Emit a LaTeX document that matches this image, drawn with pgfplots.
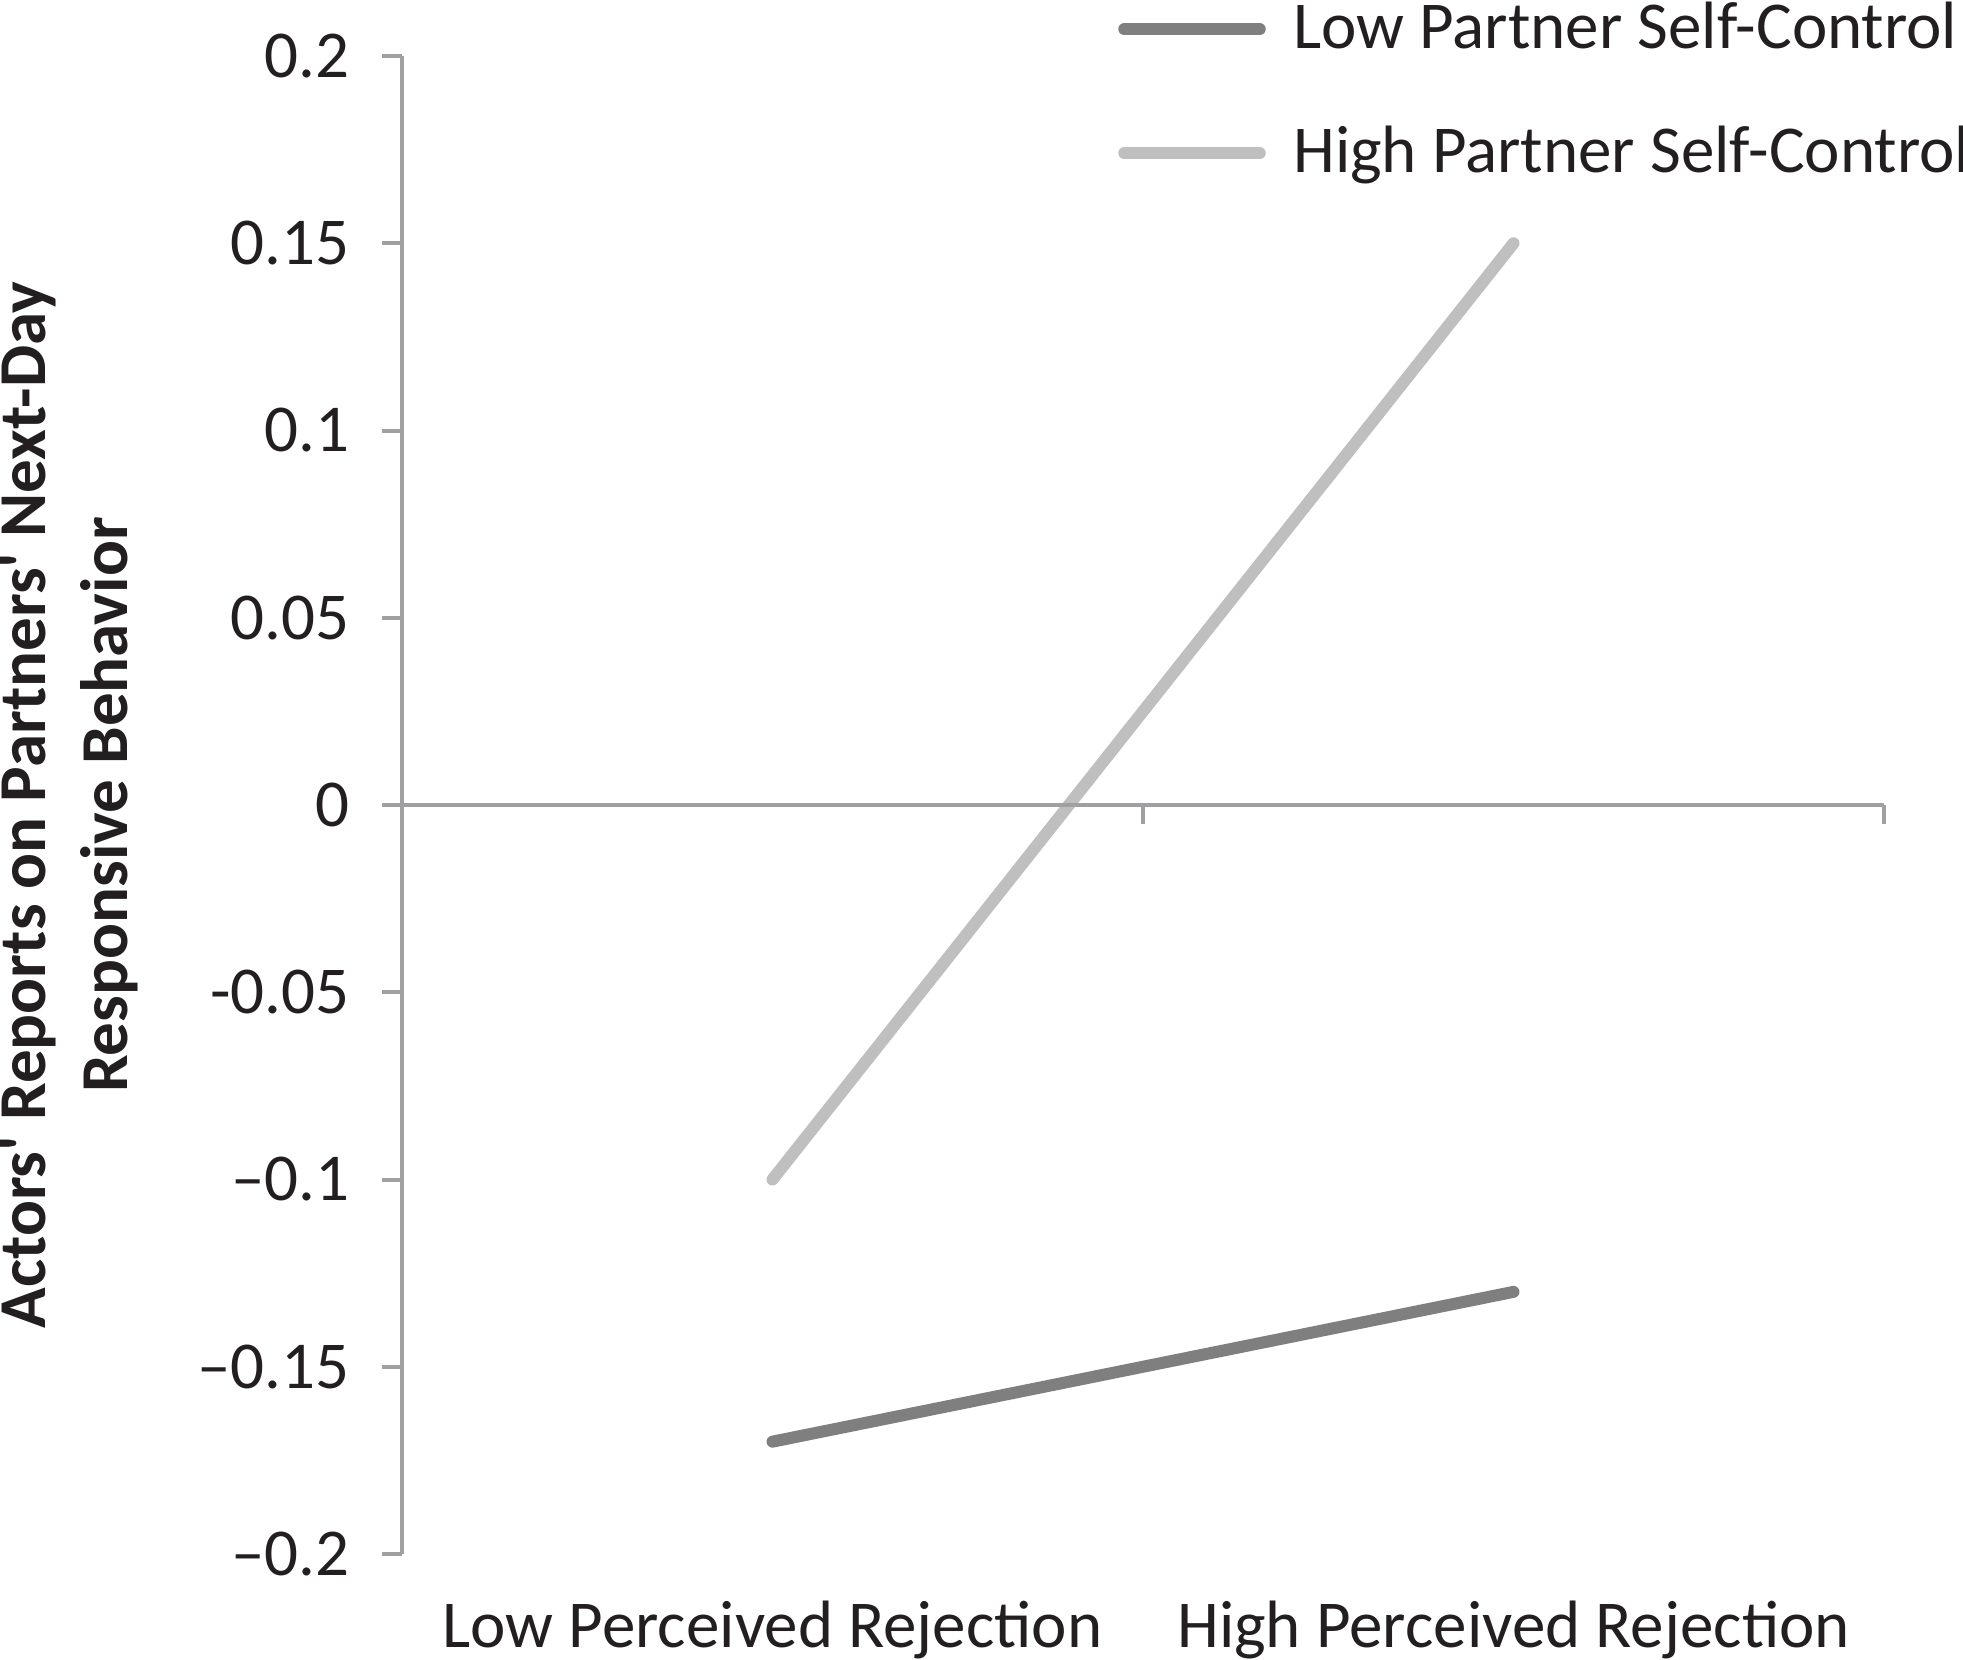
\documentclass[border=0pt]{standalone}
\usepackage{pgfplots}
\pgfplotsset{compat=1.18}
\usepackage{fontspec}
\setmainfont{Carlito}
\definecolor{axisgray}{HTML}{A0A0A3}
\definecolor{lowc}{HTML}{7F7F7F}
\definecolor{highc}{HTML}{BFBFBF}
\definecolor{txt}{HTML}{231F20}
\begin{document}
\begin{tikzpicture}
\useasboundingbox (-80.4pt,-21pt) rectangle (312.2pt,310.8pt);
\begin{axis}[
  at={(0,0)}, anchor=south west,
  scale only axis, width=296.4pt, height=299.6pt,
  xmin=-0.5, xmax=1.5, ymin=-0.2, ymax=0.2,
  axis lines*=left,
  x axis line style={draw=none},
  y axis line style={draw=axisgray, line width=0.8pt},
  xtick={0,1}, xticklabels={Low Perceived Rejection, High Perceived Rejection},
  xtick style={draw=none},
  ytick={-0.2,-0.15,-0.1,-0.05,0,0.05,0.1,0.15,0.2},
  yticklabels={–0.2,–0.15,–0.1,-0.05,0,0.05,0.1,0.15,0.2},
  ytick style={draw=axisgray, line width=0.8pt},
  tick align=outside, major tick length=4pt,
  tick label style={font=\fontsize{13.4}{15}\selectfont, text=txt},
  yticklabel style={anchor=east, xshift=-3pt},
  xticklabel style={anchor=base, yshift=-14.6pt},
  ylabel={Actors\textquotesingle\ Reports on Partners\textquotesingle\ Next-Day\\Responsive Behavior},
  ylabel style={at={(axis description cs:-0.2247,0.5)}, anchor=center, align=center,
    font=\fontsize{13.4}{16.5}\selectfont\bfseries, text=txt},
  clip=false,
  legend style={draw=none, fill=none, at={(rel axis cs:0.4725,1.05)}, anchor=north west,
    font=\fontsize{13.4}{15}\selectfont, text=txt, row sep=10pt,
    /tikz/every odd column/.append style={column sep=3.5pt}},
  legend cell align=left,
  legend image code/.code={\draw[#1, line cap=round] (0pt,0pt) -- (27.1pt,0pt);},
]
\addplot[lowc, line width=2.4pt, line cap=round] coordinates {(0,-0.17) (1,-0.13)};
\addlegendentry{Low Partner Self-Control}
\addplot[highc, line width=2.4pt, line cap=round] coordinates {(0,-0.10) (1,0.15)};
\addlegendentry{High Partner Self-Control}
\draw[axisgray, line width=0.8pt] (axis cs:-0.5,0) -- (axis cs:1.5,0);
\draw[axisgray, line width=0.8pt] (axis cs:0.5,0) -- ([yshift=-3.8pt]axis cs:0.5,0);
\draw[axisgray, line width=0.8pt] (axis cs:1.5,0) -- ([yshift=-3.8pt]axis cs:1.5,0);
\end{axis}
\end{tikzpicture}
\end{document}
